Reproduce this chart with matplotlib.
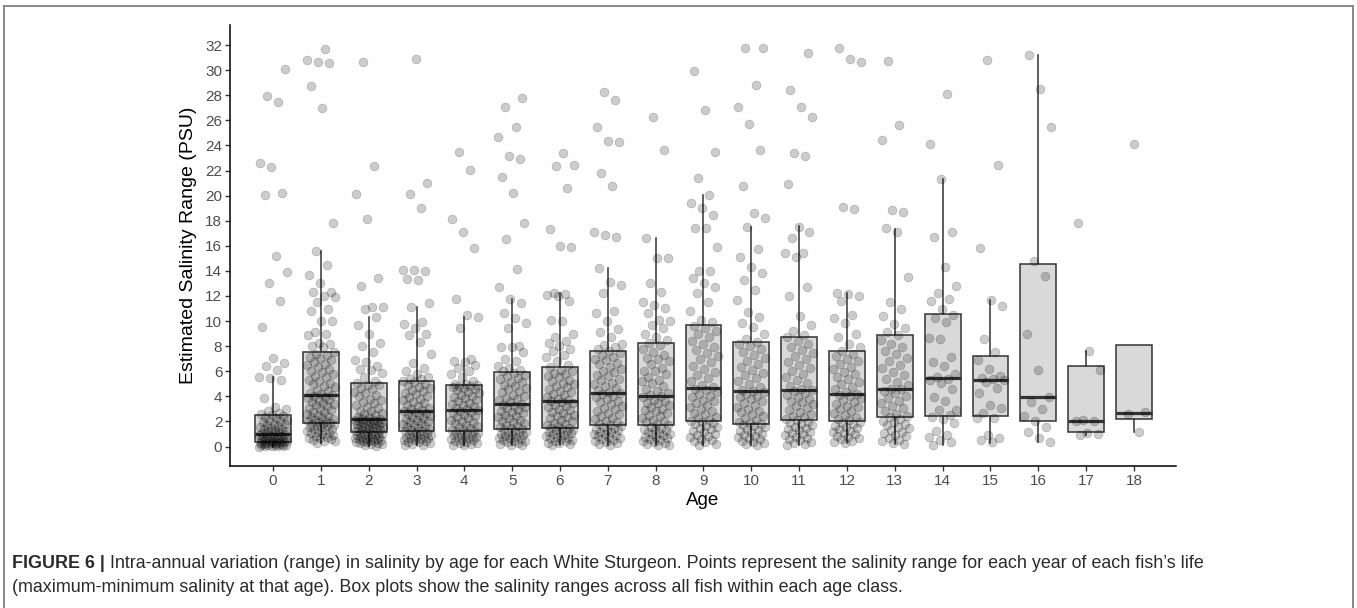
"""
Figure 6 — intra-annual salinity range by age (White Sturgeon)
box plots per age class + jittered yearly ranges
"""
import numpy as np
import matplotlib; matplotlib.use("Agg"); import matplotlib.pyplot as plt
from matplotlib.lines import Line2D

plt.rcParams["font.family"] = ["Liberation Sans", "DejaVu Sans"]

AGES = list(range(19))
# box stats (PSU)
MED    = [1.0, 4.12, 2.18, 2.84, 2.92, 3.4, 3.64, 4.3, 4.04, 4.65, 4.43, 4.51, 4.17, 4.57, 5.44, 5.31, 3.93, 2.07, 2.66]
Q1     = [0.35, 1.86, 1.14, 1.25, 1.22, 1.41, 1.46, 1.73, 1.73, 2.04, 1.8, 2.1, 2.02, 2.39, 2.42, 2.42, 2.0, 1.17, 2.23]
Q3     = [2.52, 7.57, 5.1, 5.26, 4.91, 5.92, 6.37, 7.65, 8.28, 9.67, 8.36, 8.74, 7.65, 8.9, 10.54, 7.25, 14.55, 6.45, 8.1]
WHI_LO = [0.0, 0.3, 0.08, 0.1, 0.1, 0.1, 0.1, 0.1, 0.1, 0.15, 0.1, 0.1, 0.3, 0.2, 0.13, 0.3, 0.37, 0.95, 1.19]
WHI_HI = [5.52, 15.6, 10.3, 11.15, 10.3, 11.8, 12.2, 14.2, 16.6, 20.05, 17.5, 17.6, 12.2, 17.34, 21.3, 11.69, 31.2, 7.62, 8.1]

# yearly salinity ranges (one point per fish-year)
age_0 = [0.0, 0.02, 0.03, 0.06, 0.07, 0.1, 0.12, 0.13, 0.16, 0.19, 0.2, 0.22, 0.25, 0.26, 0.29, 0.3, 0.33, 0.35, 0.37, 0.4,
         0.42, 0.45, 0.46, 0.5, 0.53, 0.55, 0.61, 0.64, 0.68, 0.7, 0.75, 0.78, 0.83, 0.88, 0.9, 0.95, 0.99, 1.02, 1.05, 1.1,
         1.13, 1.2, 1.24, 1.3, 1.37, 1.42, 1.5, 1.56, 1.6, 1.72, 1.78, 1.83, 1.95, 2.02, 2.1, 2.15, 2.27, 2.35, 2.42, 2.5,
         2.6, 2.7, 2.85, 3.0, 3.19, 3.9, 5.3, 5.5, 5.55, 6.1, 6.45, 6.64, 7.04, 9.5, 11.63, 13.01, 13.91, 15.19, 20.02,
         20.23, 22.25, 22.57, 27.5, 27.93, 30.06]
age_1 = [0.3, 0.41, 0.48, 0.55, 0.57, 0.66, 0.71, 0.8, 0.84, 0.93, 0.98, 1.07, 1.1, 1.19, 1.23, 1.31, 1.37, 1.4, 1.52, 1.55,
         1.63, 1.67, 1.71, 1.79, 1.83, 1.9, 1.94, 2.01, 2.06, 2.12, 2.2, 2.24, 2.35, 2.42, 2.51, 2.58, 2.73, 2.79, 2.9, 3.0,
         3.08, 3.2, 3.28, 3.4, 3.47, 3.55, 3.68, 3.72, 3.85, 3.96, 4.03, 4.1, 4.16, 4.28, 4.45, 4.53, 4.72, 4.8, 4.98, 5.07,
         5.2, 5.33, 5.52, 5.6, 5.78, 5.97, 6.03, 6.22, 6.33, 6.52, 6.58, 6.77, 6.91, 7.02, 7.13, 7.31, 7.4, 7.56, 7.9, 8.0,
         8.2, 8.23, 8.9, 9.0, 9.1, 9.98, 10.02, 10.83, 10.94, 11.55, 11.9, 12.0, 12.28, 12.32, 13.0, 13.65, 14.47, 15.6,
         17.84, 26.95, 28.73, 30.54, 30.64, 30.8, 31.65]
age_2 = [0.08, 0.1, 0.17, 0.2, 0.26, 0.29, 0.33, 0.4, 0.41, 0.47, 0.5, 0.52, 0.58, 0.61, 0.64, 0.7, 0.72, 0.78, 0.8, 0.85,
         0.89, 0.91, 0.97, 1.0, 1.03, 1.09, 1.12, 1.15, 1.21, 1.26, 1.29, 1.35, 1.37, 1.44, 1.47, 1.53, 1.56, 1.6, 1.66,
         1.69, 1.75, 1.79, 1.81, 1.87, 1.9, 1.96, 2.0, 2.05, 2.09, 2.11, 2.15, 2.18, 2.21, 2.32, 2.37, 2.48, 2.6, 2.68, 2.8,
         2.84, 3.04, 3.17, 3.28, 3.45, 3.53, 3.72, 3.83, 4.02, 4.1, 4.3, 4.38, 4.57, 4.68, 4.87, 4.94, 5.06, 5.2, 5.52, 5.83,
         6.1, 6.2, 6.43, 6.7, 6.9, 7.57, 8.0, 8.23, 9.0, 9.7, 10.3, 11.0, 11.1, 11.15, 12.8, 13.46, 18.1, 20.1, 22.38, 30.64]
age_3 = [0.1, 0.14, 0.21, 0.27, 0.33, 0.38, 0.46, 0.49, 0.56, 0.6, 0.67, 0.69, 0.77, 0.8, 0.86, 0.91, 0.94, 1.01, 1.04, 1.11,
         1.14, 1.2, 1.24, 1.31, 1.37, 1.46, 1.53, 1.63, 1.69, 1.81, 1.87, 1.96, 2.04, 2.13, 2.19, 2.31, 2.37, 2.46, 2.53,
         2.63, 2.69, 2.79, 2.84, 2.91, 3.02, 3.09, 3.23, 3.33, 3.47, 3.56, 3.71, 3.8, 3.96, 4.03, 4.2, 4.28, 4.43, 4.49,
         4.64, 4.73, 4.88, 4.96, 5.12, 5.2, 5.36, 5.42, 5.52, 5.8, 6.02, 6.3, 6.64, 7.38, 8.3, 8.9, 9.0, 9.43, 9.8, 9.9,
         11.15, 11.42, 13.3, 13.33, 14.0, 14.07, 14.1, 18.98, 20.1, 21.0, 30.86]
age_4 = [0.1, 0.13, 0.17, 0.26, 0.29, 0.37, 0.41, 0.49, 0.54, 0.61, 0.65, 0.73, 0.77, 0.85, 0.89, 0.96, 1.0, 1.07, 1.11, 1.17,
         1.21, 1.29, 1.35, 1.46, 1.54, 1.66, 1.73, 1.86, 1.93, 2.06, 2.13, 2.26, 2.33, 2.46, 2.54, 2.66, 2.73, 2.86, 2.91,
         2.99, 3.08, 3.21, 3.29, 3.43, 3.51, 3.63, 3.7, 3.86, 3.93, 4.06, 4.14, 4.29, 4.38, 4.51, 4.6, 4.7, 4.78, 4.82, 4.86,
         4.9, 4.95, 5.02, 5.2, 5.58, 5.8, 6.0, 6.3, 6.48, 6.7, 6.82, 6.95, 9.43, 10.3, 10.49, 11.76, 15.8, 17.07, 18.1,
         22.04, 23.45]
age_5 = [0.1, 0.16, 0.21, 0.31, 0.34, 0.43, 0.47, 0.56, 0.59, 0.68, 0.71, 0.79, 0.84, 0.91, 0.95, 1.03, 1.07, 1.16, 1.19, 1.27,
         1.31, 1.39, 1.46, 1.54, 1.66, 1.74, 1.86, 1.94, 2.06, 2.14, 2.26, 2.34, 2.46, 2.54, 2.66, 2.74, 2.86, 2.94, 3.06,
         3.14, 3.26, 3.34, 3.42, 3.56, 3.68, 3.82, 3.89, 4.06, 4.13, 4.32, 4.43, 4.57, 4.68, 4.82, 4.93, 5.12, 5.18, 5.37,
         5.48, 5.62, 5.73, 5.89, 6.01, 6.12, 6.28, 6.42, 6.8, 6.96, 7.57, 7.9, 7.97, 8.0, 9.43, 9.88, 10.22, 10.62, 11.42,
         11.8, 12.7, 14.13, 16.54, 17.82, 20.18, 21.5, 22.9, 23.18, 24.64, 25.49, 27.08, 27.77]
age_6 = [0.1, 0.17, 0.26, 0.31, 0.41, 0.45, 0.53, 0.59, 0.66, 0.71, 0.79, 0.84, 0.93, 0.97, 1.06, 1.09, 1.17, 1.21, 1.29, 1.33,
         1.41, 1.44, 1.51, 1.61, 1.69, 1.83, 1.91, 2.03, 2.11, 2.25, 2.34, 2.47, 2.55, 2.67, 2.77, 2.91, 2.99, 3.13, 3.21,
         3.35, 3.44, 3.56, 3.63, 3.71, 3.81, 3.96, 4.07, 4.21, 4.31, 4.46, 4.57, 4.71, 4.81, 4.96, 5.07, 5.21, 5.34, 5.51,
         5.61, 5.76, 5.89, 6.03, 6.14, 6.31, 6.5, 6.8, 7.1, 7.3, 7.6, 7.8, 8.0, 8.23, 8.42, 8.76, 9.0, 10.0, 10.09, 11.6,
         12.0, 12.1, 12.16, 12.2, 15.88, 15.98, 17.31, 20.58, 22.4, 22.44, 23.37]
age_7 = [0.1, 0.21, 0.27, 0.37, 0.44, 0.53, 0.59, 0.69, 0.74, 0.83, 0.89, 0.99, 1.04, 1.13, 1.19, 1.29, 1.34, 1.43, 1.49, 1.57,
         1.61, 1.71, 1.79, 1.93, 2.04, 2.19, 2.29, 2.46, 2.57, 2.71, 2.84, 2.99, 3.09, 3.26, 3.39, 3.53, 3.64, 3.81, 3.91,
         4.06, 4.17, 4.29, 4.36, 4.49, 4.66, 4.79, 4.96, 5.09, 5.29, 5.41, 5.61, 5.74, 5.91, 6.04, 6.21, 6.37, 6.56, 6.69,
         6.86, 6.99, 7.16, 7.29, 7.46, 7.61, 7.8, 7.9, 8.1, 8.2, 8.71, 9.1, 9.4, 10.0, 10.62, 10.83, 12.21, 12.88, 13.09,
         14.23, 16.68, 16.9, 17.13, 20.79, 21.77, 24.24, 24.38, 25.49, 27.59, 28.25]
age_8 = [0.1, 0.15, 0.19, 0.31, 0.38, 0.45, 0.52, 0.57, 0.69, 0.77, 0.8, 0.89, 0.97, 1.0, 1.09, 1.17, 1.29, 1.37, 1.4, 1.49,
         1.57, 1.69, 1.81, 1.94, 2.0, 2.11, 2.24, 2.41, 2.54, 2.71, 2.84, 2.9, 3.01, 3.14, 3.31, 3.44, 3.5, 3.61, 3.74, 3.91,
         4.01, 4.11, 4.29, 4.4, 4.56, 4.79, 5.06, 5.2, 5.29, 5.56, 5.79, 6.0, 6.06, 6.29, 6.56, 6.79, 7.0, 7.06, 7.29, 7.56,
         7.79, 8.06, 8.24, 8.5, 8.71, 9.0, 9.43, 9.69, 10.0, 10.09, 10.67, 11.02, 11.3, 11.5, 12.35, 13.06, 15.0, 15.06,
         16.6, 23.63, 26.23]
age_9 = [0.15, 0.24, 0.36, 0.44, 0.56, 0.64, 0.76, 0.84, 0.96, 1.04, 1.16, 1.24, 1.36, 1.44, 1.56, 1.64, 1.76, 1.84, 1.96,
         2.02, 2.11, 2.26, 2.39, 2.56, 2.69, 2.86, 3.01, 3.14, 3.31, 3.44, 3.61, 3.74, 3.91, 4.04, 4.21, 4.34, 4.51, 4.62,
         4.71, 4.94, 5.21, 5.44, 5.71, 5.94, 6.21, 6.44, 6.71, 6.94, 7.21, 7.44, 7.71, 7.94, 8.21, 8.44, 8.71, 8.94, 9.21,
         9.44, 9.61, 9.9, 10.09, 10.83, 11.55, 12.21, 12.7, 13.0, 13.41, 14.0, 14.02, 15.88, 17.4, 17.42, 18.45, 18.98,
         19.38, 20.05, 21.43, 23.45, 26.8, 29.9]
age_10 = [0.1, 0.2, 0.27, 0.39, 0.46, 0.58, 0.65, 0.77, 0.84, 0.96, 1.03, 1.15, 1.22, 1.34, 1.41, 1.53, 1.6, 1.72, 1.79, 1.86,
          1.97, 2.12, 2.26, 2.42, 2.56, 2.72, 2.86, 3.02, 3.16, 3.32, 3.46, 3.62, 3.76, 3.92, 4.06, 4.22, 4.36, 4.42, 4.52,
          4.76, 4.98, 5.22, 5.44, 5.68, 5.9, 6.14, 6.36, 6.6, 6.82, 7.06, 7.28, 7.52, 7.74, 7.98, 8.2, 8.35, 8.6, 9.0, 9.5,
          9.82, 10.35, 10.75, 11.68, 12.48, 13.28, 13.8, 14.34, 15.14, 15.75, 17.5, 18.19, 18.59, 20.79, 23.63, 25.73,
          27.08, 28.78, 31.75, 31.8]
age_11 = [0.1, 0.18, 0.29, 0.37, 0.49, 0.57, 0.69, 0.77, 0.89, 0.97, 1.09, 1.17, 1.29, 1.37, 1.49, 1.57, 1.69, 1.77, 1.89,
          1.97, 2.09, 2.19, 2.33, 2.46, 2.62, 2.76, 2.93, 3.06, 3.23, 3.36, 3.52, 3.66, 3.83, 3.96, 4.12, 4.26, 4.42, 4.5,
          4.59, 4.82, 5.06, 5.31, 5.53, 5.79, 6.02, 6.27, 6.51, 6.76, 6.99, 7.24, 7.48, 7.73, 7.96, 8.21, 8.44, 8.72, 8.9,
          9.2, 9.7, 10.41, 12.03, 12.69, 15.14, 15.4, 15.45, 16.65, 17.1, 17.5, 20.92, 23.16, 23.37, 26.29, 27.03, 28.39,
          31.4]
age_12 = [0.3, 0.36, 0.47, 0.58, 0.66, 0.79, 0.86, 0.98, 1.07, 1.19, 1.27, 1.39, 1.47, 1.59, 1.67, 1.79, 1.88, 1.98, 2.08,
          2.23, 2.36, 2.53, 2.66, 2.83, 2.96, 3.13, 3.26, 3.43, 3.56, 3.73, 3.86, 4.03, 4.14, 4.22, 4.38, 4.57, 4.78, 4.97,
          5.18, 5.37, 5.58, 5.77, 5.98, 6.17, 6.38, 6.57, 6.78, 6.97, 7.18, 7.37, 7.6, 7.9, 8.2, 8.71, 9.0, 9.82, 10.22,
          10.49, 11.6, 12.0, 12.15, 12.21, 18.93, 19.07, 30.67, 30.88, 31.78]
age_13 = [0.2, 0.31, 0.44, 0.56, 0.69, 0.81, 0.94, 1.06, 1.19, 1.31, 1.44, 1.56, 1.69, 1.81, 1.94, 2.06, 2.19, 2.33, 2.44,
          2.63, 2.82, 3.04, 3.23, 3.44, 3.63, 3.84, 4.03, 4.24, 4.43, 4.55, 4.62, 4.88, 5.17, 5.42, 5.73, 5.98, 6.28, 6.53,
          6.84, 7.08, 7.39, 7.63, 7.94, 8.18, 8.49, 8.86, 9.1, 9.43, 9.8, 10.4, 11.0, 11.55, 13.49, 17.07, 17.39, 18.67,
          18.85, 24.45, 25.62, 30.7]
age_14 = [0.13, 0.4, 0.53, 0.74, 0.93, 1.2, 1.9, 2.2, 2.39, 2.5, 2.92, 2.92, 3.64, 3.98, 4.57, 5.05, 5.31, 5.4, 5.58, 5.76,
          6.43, 6.77, 7.17, 8.55, 8.63, 9.9, 10.23, 10.49, 10.94, 11.6, 11.74, 12.27, 12.83, 14.29, 16.68, 17.13, 21.33,
          24.09, 28.1]
age_15 = [0.4, 0.53, 0.66, 0.93, 2.26, 2.3, 2.66, 3.05, 3.32, 4.3, 4.65, 5.18, 5.31, 5.37, 5.44, 5.63, 6.16, 6.9, 7.57,
          8.58, 11.2, 11.69, 15.86, 22.44, 30.81]
age_16 = [0.37, 0.66, 1.19, 1.55, 2.02, 2.45, 2.96, 3.54, 3.92, 6.13, 8.97, 13.59, 14.79, 25.48, 28.5, 31.2]
age_17 = [0.93, 1.0, 1.12, 2.05, 2.07, 2.1, 6.1, 7.62, 17.82]
age_18 = [1.19, 2.62, 2.75, 24.1]
RANGES = [age_0, age_1, age_2, age_3, age_4, age_5, age_6, age_7, age_8, age_9, age_10,
          age_11, age_12, age_13, age_14, age_15, age_16, age_17, age_18]

CAP_BOLD = "FIGURE 6 |"
CAP_1 = (" Intra-annual variation (range) in salinity by age for each White Sturgeon. "
         "Points represent the salinity range for each year of each fish\u2019s life")
CAP_2 = ("(maximum-minimum salinity at that age). Box plots show the salinity ranges "
         "across all fish within each age class.")

EDGE, FILL, PT = "#333333", "#d9d9d9", (0, 0, 0)
W, H = 1357, 608

fig = plt.figure(figsize=(W/100, H/100), dpi=100)
ax = fig.add_axes([230/W, 1-466/H, 946/W, 441/H])

stats = [dict(med=m, q1=a, q3=b, whislo=lo, whishi=hi, fliers=[])
         for m, a, b, lo, hi in zip(MED, Q1, Q3, WHI_LO, WHI_HI)]
ax.bxp(stats, positions=AGES, widths=0.75, patch_artist=True, showfliers=False, showcaps=False,
       boxprops=dict(facecolor=FILL, edgecolor=EDGE, linewidth=1.1),
       medianprops=dict(color=EDGE, linewidth=2.3, solid_capstyle="butt"),
       whiskerprops=dict(color=EDGE, linewidth=1.1), zorder=1)

# jitter: horizontal offsets only (golden-ratio sequence, deterministic)
xs, ys = [], []
for age, vals in zip(AGES, RANGES):
    for i, v in enumerate(vals):
        ph = (i*0.6180339887 + age*0.37) % 1.0
        xs.append(age + (ph-0.5)*0.6); ys.append(v)
ax.scatter(xs, ys, s=40, facecolors=[(*PT, 0.2)], edgecolors=[(*PT, 0.22)], linewidths=0.5, zorder=3)

ax.set_xlim(-0.9, 18.88); ax.set_ylim(-1.55, 33.6)
ax.set_xticks(AGES); ax.set_yticks(range(0, 33, 2))
for s in ("top", "right"): ax.spines[s].set_visible(False)
for s in ("left", "bottom"): ax.spines[s].set_linewidth(1.1)
ax.tick_params(length=3.5, width=1.0, color="#333333", labelsize=11, labelcolor="#4d4d4d", pad=2)
ax.set_xlabel("Age", fontsize=13.5, labelpad=3)
ax.set_ylabel("Estimated Salinity Range (PSU)", fontsize=14, labelpad=6)

# caption + frame
FS = 12.9
t = fig.text(12/W, 1-563/H, CAP_BOLD, fontsize=FS, fontweight="bold", color="#2b2b2b", va="center")
fig.canvas.draw()
bb = t.get_window_extent()
fig.text(bb.x1/W, 1-563/H, CAP_1, fontsize=FS, color="#2b2b2b", va="center")
fig.text(12/W, 1-588/H, CAP_2, fontsize=FS, color="#2b2b2b", va="center")
for xx, yy in (([4, 1353], [6, 6]), ([4, 4], [6, 608]), ([1353, 1353], [6, 608])):
    fig.add_artist(Line2D([x/W for x in xx], [1-y/H for y in yy], color="#888888", lw=1.4))

fig.savefig("out.png", dpi=100)
